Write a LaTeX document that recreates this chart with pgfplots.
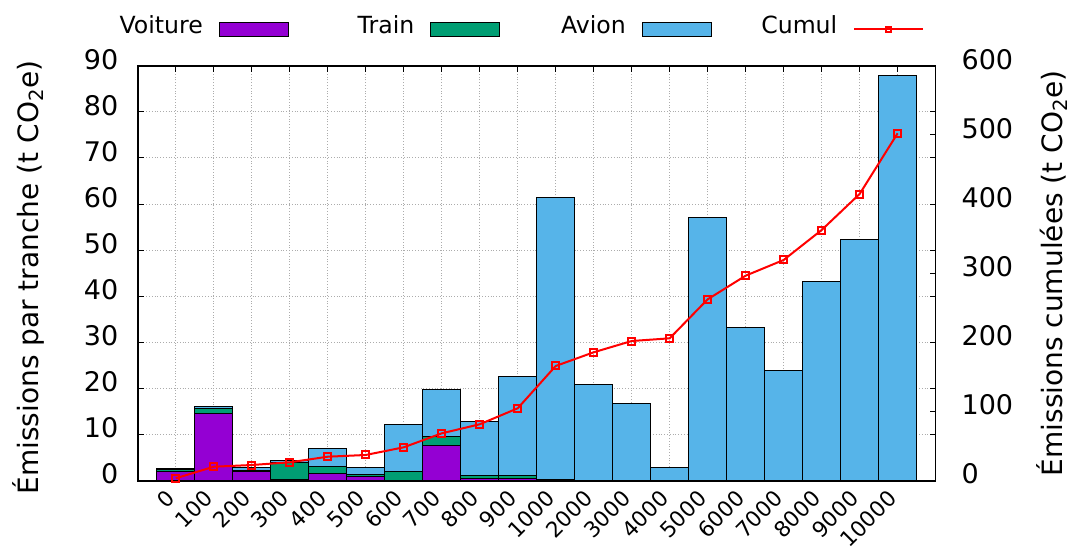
\documentclass[border=0pt]{standalone}
\usepackage{pgfplots}
\usepackage{pgfplotstable}
\pgfplotsset{compat=1.18}
\usepackage{fontspec}
\setmainfont{DejaVu Sans}
\definecolor{voiture}{HTML}{9400D3}
\definecolor{train}{HTML}{009E73}
\definecolor{avion}{HTML}{56B4E9}

\pgfplotstableread{
x v t a
0 2.1 0.4 0.1
1 14.5 1.2 0.5
2 2.1 0.15 0.55
3 0.35 3.55 0.45
4 1.5 1.5 3.9
5 0.9 0.5 1.5
6 0.0 2.0 10.15
7 7.6 2.0 10.2
8 0.5 0.6 11.8
9 0.5 0.6 21.5
10 0.1 0.2 61.1
11 0 0 20.9
12 0 0 16.85
13 0 0 2.97
14 0 0 57.1
15 0 0 33.3
16 0 0 23.9
17 0 0 43.3
18 0 0 52.4
19 0 0 87.9
}\bars

\pgfplotstableread{
x c
0 3.5
1 20.2
2 22.7
3 26.6
4 34.7
5 37.2
6 48.3
7 68.5
8 81.6
9 104.7
10 165.9
11 185.7
12 202
13 205.9
14 262.3
15 296.5
16 319.2
17 362.5
18 414.6
19 502.4
}\cumul

\pgfplotsset{
  barleg/.style={legend image code/.code={\draw[##1] (8pt,-5pt) rectangle (42.5pt,2pt); \path (0pt,0pt);}},
  cumleg/.style={legend image code/.code={\draw[mark repeat=2,mark phase=2,##1,sharp plot] plot coordinates {(8pt,-1.5pt) (25.25pt,-1.5pt) (42.5pt,-1.5pt)}; \path (0pt,0pt);}},
}

\begin{document}
\begin{tikzpicture}
\begin{axis}[
  at={(0,0)}, anchor=south west, scale only axis,
  width=398.9pt, height=207.45pt,
  xmin=-1, xmax=20, ymin=0, ymax=90,
  ybar stacked, bar width=1,
  xtick={0,...,19},
  xticklabels={0,100,200,300,400,500,600,700,800,900,1000,2000,3000,4000,5000,6000,7000,8000,9000,10000},
  ytick={0,10,...,90},
  tick align=inside, major tick length=3pt,
  tick style={black, line width=0.5pt},
  xmajorgrids, ymajorgrids,
  grid style={densely dotted, gray!65, line width=0.5pt},
  axis line style={line width=0.8pt},
  /pgf/number format/assume math mode=true,
  ticklabel style={font=\fontsize{13.5}{16}\selectfont},
  xticklabel style={font=\fontsize{10.8}{13}\selectfont, yshift=-9.6pt, xshift=0.3pt, rotate=45, anchor=base east, inner sep=0pt},
  yticklabel style={anchor=east, inner sep=0pt, xshift=-9.6pt, yshift=3.3pt},
  ylabel={Émissions par tranche (t CO\textsubscript{2}e)},
  ylabel style={at={(axis description cs:-0.137,0.49)}, anchor=center, font=\fontsize{14}{17}\selectfont},
  legend plot pos=right,
  legend columns=4,
  legend style={at={(axis description cs:0.9863,1.095)}, anchor=east, draw=none, fill=none,
    font=\fontsize{11.8}{14}\selectfont, inner sep=0pt, nodes={inner sep=0pt},
    /tikz/every odd column/.style={column sep=0pt},
    /tikz/every even column/.style={column sep=12.75pt}},
]
\addplot[fill=voiture, draw=black, line width=0.5pt, barleg] table[x=x, y=v] {\bars};
\addlegendentry{\makebox[50pt][r]{Voiture}}
\addplot[fill=train, draw=black, line width=0.5pt, barleg] table[x=x, y=t] {\bars};
\addlegendentry{\makebox[50pt][r]{Train}}
\addplot[fill=avion, draw=black, line width=0.5pt, barleg] table[x=x, y=a] {\bars};
\addlegendentry{\makebox[50pt][r]{Avion}}
\addlegendimage{red, line width=1pt, mark=square, mark size=1.3pt, mark options={solid}, cumleg}
\addlegendentry{\makebox[50pt][r]{Cumul}}
\end{axis}
\begin{axis}[
  at={(0,0)}, anchor=south west, scale only axis,
  width=398.9pt, height=207.45pt,
  xmin=-1, xmax=20, ymin=0, ymax=600,
  axis x line=none, axis y line*=right,
  ytick={0,100,...,600},
  tick align=inside, major tick length=3pt,
  tick style={black, line width=0.5pt},
  axis line style={line width=0.8pt},
  /pgf/number format/assume math mode=true,
  ticklabel style={font=\fontsize{13.5}{16}\selectfont},
  yticklabel style={anchor=west, inner sep=0pt, xshift=12.8pt, yshift=3.3pt},
  ylabel={Émissions cumulées (t CO\textsubscript{2}e)},
  ylabel style={at={(axis description cs:1.1459,0.5)}, anchor=center, font=\fontsize{14}{17}\selectfont},
]
\addplot[red, line width=1pt, mark=square, mark size=1.75pt, mark options={solid}] table[x=x, y=c] {\cumul};
\end{axis}
\pgfresetboundingbox
\path (-68.9pt,-32.65pt) rectangle (466.1pt,240.35pt);
\end{tikzpicture}
\end{document}
